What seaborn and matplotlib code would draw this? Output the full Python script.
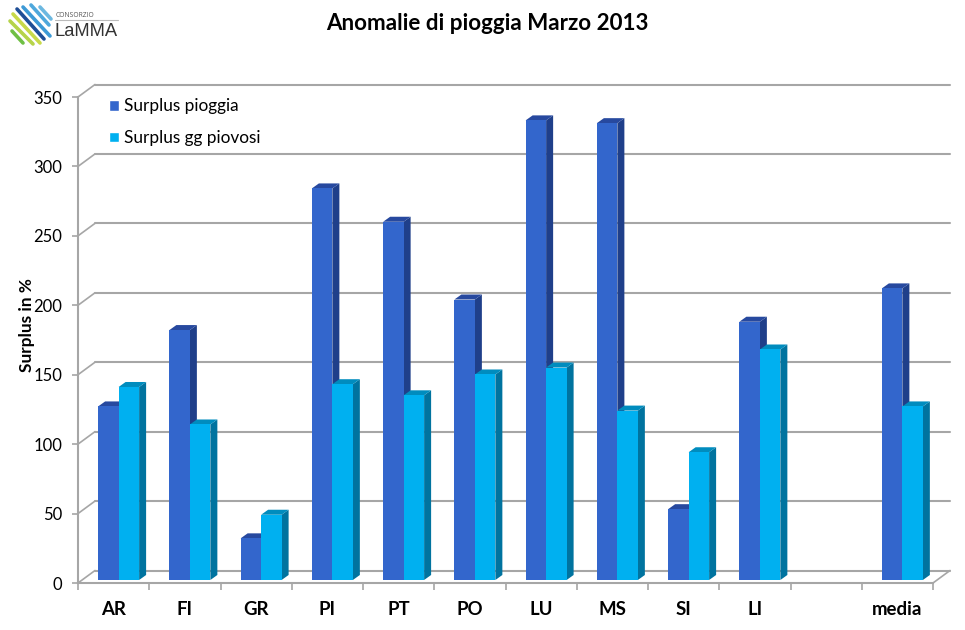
import numpy as np
import pandas as pd
import seaborn as sns
import matplotlib.pyplot as plt
from matplotlib.lines import Line2D
from matplotlib.patches import Polygon

stazioni = ['AR', 'FI', 'GR', 'PI', 'PT', 'PO', 'LU', 'MS', 'SI', 'LI', ' ', 'media']
surplus_pioggia = [125, 180, 30, 282, 258, 202, 331, 329, 51, 186, np.nan, 210]
surplus_giorni = [139, 112, 47, 141, 133, 148, 153, 122, 92, 166, np.nan, 125]
serie = ['Surplus pioggia', 'Surplus gg piovosi']
y_ticks = [0, 50, 100, 150, 200, 250, 300, 350]

W, H = 965, 630
colori = ['#3366CC', '#00B0F0']
lati = ['#1F3F8A', '#00739F']
tetti = ['#27499F', '#008CBE']
griglia = '#A6A6A6'
font = 'Lato'

df = pd.DataFrame({
    'stazione': stazioni * 2,
    'serie': [serie[0]] * len(stazioni) + [serie[1]] * len(stazioni),
    'surplus': surplus_pioggia + surplus_giorni,
})

sns.set_theme(style='white')
plt.rcParams['font.family'] = [font, 'DejaVu Sans']

fig = plt.figure(figsize=(W / 100, H / 100), dpi=100)
# front plane of the fake 3D box, in pixels
ax = fig.add_axes([78 / W, 1 - 583 / H, (933 - 78) / W, (583 - 97) / H])
sns.barplot(data=df, x='stazione', y='surplus', hue='serie', order=stazioni, hue_order=serie,
            palette=colori, width=0.575, gap=0, saturation=1, ax=ax, zorder=5)
ax.set_xlim(-0.5, 11.5)
ax.set_ylim(0, 350)

sx = 855 / 12
sy = 486 / 350

# back wall and side wall
back_x, back_y = 17 / sx, 12.5 / sy
for v in y_ticks:
    ax.plot([-0.5 + back_x, 11.5 + back_x], [v + back_y] * 2, color=griglia, lw=1.5, clip_on=False, zorder=1)
    ax.plot([-0.5, -0.5 + back_x], [v, v + back_y], color=griglia, lw=1.2, clip_on=False, zorder=1)
ax.plot([11.5, 11.5 + back_x], [0, back_y], color=griglia, lw=1.2, clip_on=False, zorder=1)

# bars moved onto the floor, with side and top faces
off = (5 / sx, 3 / sy)
dep_x, dep_y = 7 / sx, 5 / sy
for i, cont in enumerate(ax.containers):
    for bar in cont:
        h = bar.get_height()
        if not np.isfinite(h):
            continue
        x0 = bar.get_x() + off[0]
        x1 = x0 + bar.get_width()
        y0 = off[1]
        y1 = h + off[1]
        bar.set_x(x0)
        bar.set_y(y0)
        bar.set_clip_on(False)
        bar.set_edgecolor('none')
        bar.set_zorder(3 + 2 * i)
        ax.add_patch(Polygon([(x1, y0), (x1 + dep_x, y0 + dep_y), (x1 + dep_x, y1 + dep_y), (x1, y1)],
                             closed=True, fc=lati[i], ec='none', clip_on=False, zorder=2 + 2 * i))
        ax.add_patch(Polygon([(x0, y1), (x0 + dep_x, y1 + dep_y), (x1 + dep_x, y1 + dep_y), (x1, y1)],
                             closed=True, fc=tetti[i], ec='none', clip_on=False, zorder=2 + 2 * i))

sns.despine(ax=ax, top=True, right=True)
for s in ['left', 'bottom']:
    ax.spines[s].set_color(griglia)
    ax.spines[s].set_linewidth(1.5)

ax.set_yticks(y_ticks)
ax.set_xticks(range(len(stazioni)))
ax.set_xticklabels(stazioni, fontsize=13.4, fontweight='bold', color='black')
ax.set_xticks(np.arange(-0.5, 12), minor=True)
ax.tick_params(axis='x', which='major', length=0, pad=13)
ax.tick_params(axis='x', which='minor', length=5, width=1.2, color=griglia, bottom=True)
ax.tick_params(axis='y', length=4.5, width=1.2, color=griglia, left=True, pad=7, labelsize=12, labelcolor='black')
ax.set_xlabel('')
ax.set_ylabel('')
fig.text(27 / W, 1 - 325.5 / H, 'Surplus in %', rotation=90, ha='center', va='center',
         fontsize=12.4, fontweight='bold', color='black')

leg = ax.legend(loc='upper left', bbox_to_anchor=((97.5 - 78) / 855, 1.0205), frameon=False, fontsize=12.4,
                handlelength=0.6, handleheight=0.6, handletextpad=0.3, labelspacing=0.92, borderpad=0.15)
leg.set_zorder(20)
for txt in leg.get_texts():
    txt.set_color('black')

fig.text(487 / W, 1 - 23 / H, 'Anomalie di pioggia Marzo 2013', ha='center', va='center',
         fontsize=16.1, fontweight='bold', color='black')

# logo LaMMA
logo_colori = ['#6CB8E0', '#4FA8DC', '#3D9AD6', '#1F4E96', '#C8D94A', '#B5D34A', '#6FBF44']
logo_seg = [((40, 7), (51, 19)), ((31, 5), (49, 25)), ((23, 7), (50, 36)), ((17, 9), (44, 39)),
            ((13, 14), (40, 43)), ((10, 21), (33, 44)), ((12, 31), (23, 43))]
for col, (a, b) in zip(logo_colori, logo_seg):
    fig.add_artist(Line2D([a[0] / W, b[0] / W], [1 - a[1] / H, 1 - b[1] / H], color=col, lw=2.6, solid_capstyle='round'))
fig.add_artist(Line2D([55 / W, 118 / W], [1 - 20 / H] * 2, color='#BBBBBB', lw=0.8))
fig.text(56 / W, 1 - 15.5 / H, 'CONSORZIO', fontsize=4.9, color='#555555', va='center', family='Open Sans')
fig.text(55 / W, 1 - 31 / H, 'LaMMA', fontsize=13.2, color='#333333', va='center', family='Liberation Sans')

fig.savefig('out.png', dpi=100)
plt.close(fig)
